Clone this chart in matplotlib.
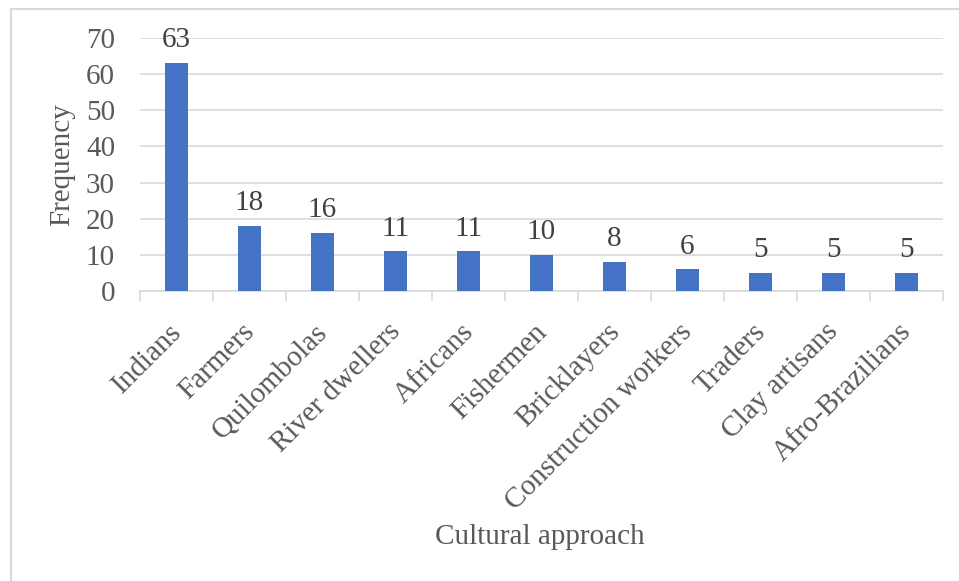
import matplotlib.pyplot as plt
from matplotlib.lines import Line2D
import numpy as np

categories = ['Indians', 'Farmers', 'Quilombolas', 'River dwellers', 'Africans',
              'Fishermen', 'Bricklayers', 'Construction workers', 'Traders',
              'Clay artisans', 'Afro-Brazilians']
frequency = [63, 18, 16, 11, 11, 10, 8, 6, 5, 5, 5]

plt.rcParams['font.family'] = 'Liberation Serif'
text_color = '#595959'
line_color = '#d9d9d9'

fig = plt.figure(figsize=(9.59, 5.81), dpi=100)
ax = fig.add_axes([0.146, 0.499, 0.837, 0.436])

# chart frame: top and left edges only
fig.lines.append(Line2D([0.011, 0.011], [0.0, 0.985], transform=fig.transFigure,
                        color=line_color, linewidth=1.5))
fig.lines.append(Line2D([0.011, 1.0], [0.985, 0.985], transform=fig.transFigure,
                        color=line_color, linewidth=1.5))

x = np.arange(len(categories))
bars = ax.bar(x, frequency, width=0.31, color='#4472C4', zorder=3)

for bar, val in zip(bars, frequency):
    ax.annotate(str(val), (bar.get_x() + bar.get_width() / 2, val),
                xytext=(0, 7), textcoords='offset points',
                ha='center', va='bottom', fontsize=21, color='#404040')

ax.set_xlim(-0.5, len(categories) - 0.5)
ax.set_ylim(0, 70)
ax.set_yticks(range(0, 71, 10))
ax.yaxis.grid(True, color=line_color, linewidth=1.2, zorder=0)
ax.tick_params(axis='y', length=0, labelsize=21, labelcolor=text_color, pad=18)

# label ticks are invisible; set slightly left so the slanted text ends under each bar
ax.set_xticks(x - 0.11)
ax.set_xticklabels(categories, rotation=45, ha='right', rotation_mode='anchor',
                   fontsize=21, color=text_color)
ax.set_xticks(np.arange(-0.5, len(categories)), minor=True)
ax.tick_params(axis='x', which='major', length=0, pad=20)
ax.tick_params(axis='x', which='minor', length=7, color=line_color, width=1.2)

for side in ['top', 'right', 'left']:
    ax.spines[side].set_visible(False)
ax.spines['bottom'].set_color(line_color)
ax.spines['bottom'].set_linewidth(1.2)

ax.set_ylabel('Frequency', fontsize=21, color=text_color)
ax.yaxis.set_label_coords(-0.081, 0.5)
fig.text(0.563, 0.075, 'Cultural approach', fontsize=21, color=text_color,
         ha='center', va='center')

fig.savefig('out.png', dpi=100, facecolor='white')
